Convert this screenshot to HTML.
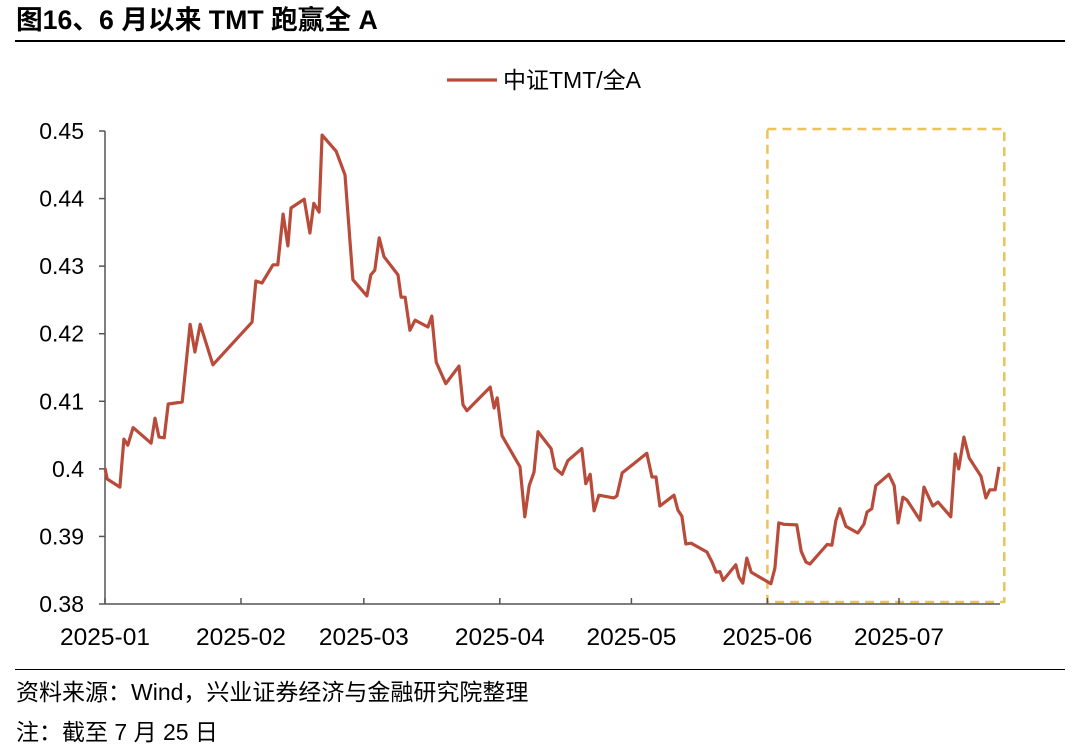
<!DOCTYPE html>
<html><head><meta charset="utf-8"><style>
body{margin:0;width:1080px;height:746px;background:#fff;font-family:"Liberation Sans","Noto Sans CJK SC",sans-serif;overflow:hidden;position:relative}
.t{position:absolute;white-space:nowrap;color:#000}
</style></head><body>
<div class="t" style="left:16px;top:4px;font-size:26.7px;font-weight:bold;line-height:32px">图16、6 月以来 TMT 跑赢全 A</div>
<div style="position:absolute;left:15px;top:40px;width:1050px;height:1.5px;background:#000"></div>
<div style="position:absolute;left:15px;top:669px;width:1050px;height:1px;background:#000"></div>
<div class="t" style="left:16px;top:678px;font-size:23px;line-height:28px">资料来源：Wind，兴业证券经济与金融研究院整理</div>
<div class="t" style="left:16px;top:718px;font-size:23px;line-height:28px">注：截至 7 月 25 日</div>
<svg id="chart" width="1080" height="746" style="position:absolute;left:0;top:0" xmlns="http://www.w3.org/2000/svg"></svg>
<script>
const yTicks=[0.38,0.39,0.40,0.41,0.42,0.43,0.44,0.45];
const yTickLabels=["0.38","0.39","0.4","0.41","0.42","0.43","0.44","0.45"];
const xTickDays=[0,31,59,90,120,151,181];
const xTickLabels=["2025-01","2025-02","2025-03","2025-04","2025-05","2025-06","2025-07"];
const days=[0,0.5,3.4,4.3,5.2,6.4,10.5,11.4,12.3,13.5,14.4,17.6,19.4,20.5,21.7,24.6,33.5,34.4,35.8,38.3,39.4,40.6,41.7,42.4,45.4,46.7,47.6,48.8,49.5,52.7,54.7,56.5,59.7,60.6,61.5,62.5,63.6,66.8,67.5,68.4,69.5,70.7,73.6,74.5,75.5,77.7,80.7,81.6,82.5,87.8,88.7,89.4,90.5,94.6,95.7,96.7,97.8,98.7,101.7,102.6,104.2,105.5,108.7,109.6,110.6,111.5,112.6,116.0,116.7,117.9,123.5,124.7,125.6,126.5,129.7,130.6,131.5,132.4,133.6,137.2,138.4,139.3,140.2,140.9,143.8,144.5,145.4,146.3,147.3,151.8,152.7,153.6,154.8,157.7,158.7,159.8,160.7,164.6,165.7,166.6,167.5,168.9,171.6,173.0,173.7,174.8,175.7,178.7,179.9,180.8,181.9,182.8,185.8,186.7,188.7,189.9,192.8,193.8,194.6,195.8,197.0,199.7,200.8,201.7,202.9,203.8];
const ratio=[0.4001,0.3985,0.3973,0.4044,0.4035,0.4061,0.4038,0.4075,0.4047,0.4046,0.4096,0.4099,0.4214,0.4173,0.4214,0.4154,0.4217,0.4278,0.4275,0.4302,0.4302,0.4377,0.4330,0.4386,0.4399,0.4349,0.4393,0.4380,0.4494,0.4470,0.4435,0.4280,0.4256,0.4287,0.4294,0.4342,0.4314,0.4287,0.4254,0.4254,0.4205,0.4220,0.4210,0.4226,0.4158,0.4126,0.4152,0.4095,0.4086,0.4121,0.4090,0.4105,0.4049,0.4003,0.3929,0.3975,0.3995,0.4055,0.4030,0.4001,0.3992,0.4012,0.4030,0.3978,0.3992,0.3938,0.3961,0.3957,0.3960,0.3994,0.4023,0.3988,0.3988,0.3945,0.3961,0.3939,0.3930,0.3889,0.3890,0.3877,0.3862,0.3847,0.3848,0.3835,0.3858,0.3840,0.3831,0.3868,0.3847,0.3830,0.3853,0.3920,0.3918,0.3917,0.3878,0.3862,0.3859,0.3888,0.3887,0.3923,0.3941,0.3915,0.3905,0.3918,0.3936,0.3941,0.3975,0.3992,0.3975,0.3920,0.3958,0.3954,0.3924,0.3973,0.3945,0.3951,0.3929,0.4022,0.4000,0.4047,0.4016,0.3989,0.3957,0.3969,0.3969,0.4003];
const highlightRange=[151,205];

const NS="http://www.w3.org/2000/svg";
const svg=document.getElementById('chart');
const X0=105,PX_PER_DAY=794/181,Y0=604,PX_PER_UNIT=473/0.07;
const xs=d=>X0+d*PX_PER_DAY;
const ys=v=>Y0-(v-0.38)*PX_PER_UNIT;
function mk(tag,attrs){const e=document.createElementNS(NS,tag);for(const k in attrs)e.setAttribute(k,attrs[k]);svg.appendChild(e);return e;}

const box=mk('rect',{x:xs(highlightRange[0]),y:ys(0.4503),width:xs(highlightRange[1])-xs(highlightRange[0]),height:ys(0.3803)-ys(0.4503),fill:'none',stroke:'#EBC35A','stroke-width':2.5,'stroke-dasharray':'9 6'});



const yl=mk('line',{x1:X0,y1:ys(0.45),x2:X0,y2:Y0,stroke:'#555','stroke-width':1.5});


yTicks.forEach((v,i)=>{
  const t=mk('line',{x1:X0-6,y1:ys(v),x2:X0,y2:ys(v),stroke:'#555','stroke-width':1.5});
  
  
  const lb=mk('text',{x:84,y:ys(v)+8,'text-anchor':'end','font-size':23,fill:'#000','font-family':'Liberation Sans, sans-serif'});
  lb.textContent=yTickLabels[i];
  
  
});
const xl=mk('line',{x1:X0,y1:Y0,x2:1000,y2:Y0,stroke:'#555','stroke-width':1.5});


xTickDays.forEach((d,i)=>{
  const t=mk('line',{x1:xs(d),y1:Y0-6,x2:xs(d),y2:Y0,stroke:'#555','stroke-width':1.5});
  
  
  const lb=mk('text',{x:xs(d),y:645,'text-anchor':'middle','font-size':24.5,fill:'#000','font-family':'Liberation Sans, sans-serif'});
  lb.textContent=xTickLabels[i];
  
  
});
const pts=days.map((d,i)=>xs(d).toFixed(1)+','+ys(ratio[i]).toFixed(1)).join(' ');
const pl=mk('polyline',{points:pts,fill:'none',stroke:'#B84B3A','stroke-width':3.2,'stroke-linejoin':'round'});


const lg=mk('line',{x1:447,y1:80,x2:497,y2:80,stroke:'#B84B3A','stroke-width':3.2});


const lt=mk('text',{x:503,y:88,'font-size':23,fill:'#000','font-family':'Liberation Sans, Noto Sans CJK SC, sans-serif'});
lt.textContent='中证TMT/全A';


</script>
</body></html>
